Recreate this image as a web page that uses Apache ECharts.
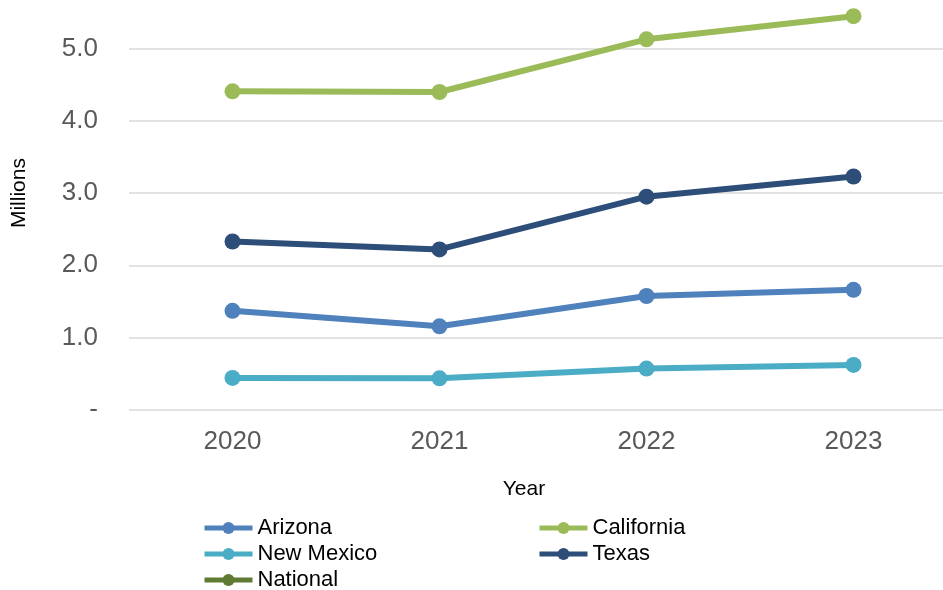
<!DOCTYPE html>
<html>
<head>
<meta charset="utf-8">
<script src="https://cdn.jsdelivr.net/npm/echarts@6/dist/echarts.min.js"></script>
<style>
  html, body { margin: 0; padding: 0; background: #fff; }
  #chart { width: 943px; height: 590px; }
</style>
</head>
<body>
<div id="chart"></div>
<script>
// Years on the category axis
const years = ['2020', '2021', '2022', '2023'];

// Values in millions
const arizona    = [1.37, 1.155, 1.575, 1.66];
const california = [4.41, 4.40, 5.13, 5.45];
const newMexico  = [0.44, 0.435, 0.57, 0.62];
const texas      = [2.33, 2.22, 2.95, 3.23];
const national   = [];

// Value-axis ticks
const yMin = 0, yMax = 6, yStep = 1;

const FONT = '"Liberation Sans", Arial, sans-serif';

const colors = {
  Arizona: '#4f81bd',
  California: '#9bbb59',
  'New Mexico': '#4bacc6',
  Texas: '#2c4e78',
  National: '#5f7a32'
};

function lineSeries(name, data) {
  return {
    name: name,
    type: 'line',
    data: data,
    symbol: 'circle',
    symbolSize: 16,
    lineStyle: { width: 6, color: colors[name] },
    itemStyle: { color: colors[name] },
    emphasis: { disabled: true },
    z: 3
  };
}

const legendText = { fontFamily: FONT, fontSize: 22, color: '#000', lineHeight: 22 };

function legendBlock(names, left) {
  return {
    data: names,
    orient: 'vertical',
    left: left, top: 512, height: 120,
    itemWidth: 48, itemHeight: 15, itemGap: 4,
    lineStyle: { width: 5 },
    textStyle: legendText,
    selectedMode: false
  };
}

const chart = echarts.init(document.getElementById('chart'), null, { renderer: 'canvas' });
chart.setOption({
  animation: false,
  backgroundColor: '#fff',
  grid: {
    left: 129, width: 828, top: -23.5, height: 433.2,
    containLabel: false, outerBoundsMode: 'none'
  },
  xAxis: {
    type: 'category',
    data: years,
    boundaryGap: true,
    axisLine: { show: false },
    axisTick: { show: false },
    axisLabel: { fontFamily: FONT, fontSize: 26, color: '#595959', margin: 19 },
    name: 'Year',
    nameLocation: 'middle',
    nameGap: 69,
    nameTextStyle: { fontFamily: FONT, fontSize: 21, color: '#000', padding: [0, 38, 0, 0] }
  },
  yAxis: {
    type: 'value',
    min: yMin,
    max: yMax,
    interval: yStep,
    axisLine: { show: false },
    axisTick: { show: false },
    splitLine: { lineStyle: { color: '#d9d9d9', width: 1.5 } },
    axisLabel: {
      fontFamily: FONT, fontSize: 26, color: '#595959', margin: 31,
      formatter: v => (v === 0 ? '-' : v.toFixed(1))
    },
    name: 'Millions',
    nameLocation: 'middle',
    nameRotate: 90,
    nameGap: 99,
    nameTextStyle: { fontFamily: FONT, fontSize: 21, color: '#000' }
  },
  legend: [
    legendBlock(['Arizona', 'New Mexico', 'National'], 197),
    legendBlock(['California', 'Texas'], 532)
  ],
  series: [
    lineSeries('Arizona', arizona),
    lineSeries('California', california),
    lineSeries('New Mexico', newMexico),
    lineSeries('Texas', texas),
    lineSeries('National', national)
  ]
});
</script>
</body>
</html>
